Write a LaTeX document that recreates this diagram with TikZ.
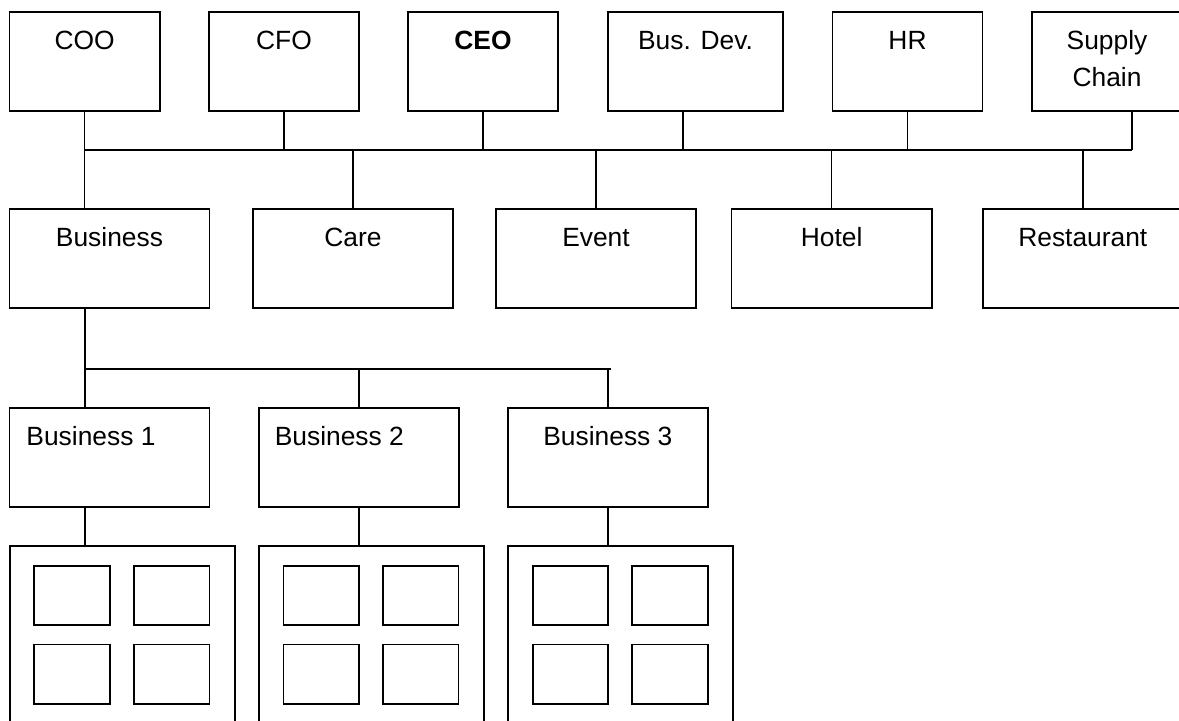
\documentclass[tikz,border=0pt]{standalone}
\usepackage{fontspec}
\setmainfont{Liberation Sans}
\usetikzlibrary{calc}
\tikzset{
	unit/.style={draw, inner sep=0pt, minimum height=0.99cm},
	ttl/.style={anchor=base, yshift=-0.385cm, inner sep=0pt, align=center},
	cell/.style={draw, inner sep=0pt, minimum width=0.756cm, minimum height=0.596cm}
}

\begin{document}
\begin{tikzpicture}[x=0.01cm, y=-0.01cm, line width=0.5pt, font=\fontsize{7.5}{10.4}\selectfont]
		%%%%% START %%%%%
		\useasboundingbox (0,0) rectangle (1179,720);
		\clip (0,0) rectangle (1179,720);
		
		% executives
		\node[unit, minimum width=1.5cm, label={[ttl]north:COO}] (coo) at (84.6,61.2) {};
		\node[unit, minimum width=1.5cm, label={[ttl]north:CFO}] (cfo) at (284,61.2) {};
		\node[unit, minimum width=1.5cm, label={[ttl]north:{\bfseries CEO}}] (ceo) at (483,61.2) {};
		\node[unit, minimum width=1.75cm, label={[ttl]north:Bus. Dev.}] (busdev) at (695.5,61.2) {};
		\node[unit, minimum width=1.5cm, label={[ttl]north:HR}] (hr) at (907.5,61.2) {};
		\node[unit, minimum width=1.5cm, label={[ttl, yshift=-0.367cm]north:Supply\\Chain}] (supply) at (1107,61.2) {};
		
		% divisions
		\node[unit, minimum width=2cm, label={[ttl]north:Business}] (business) at (109.5,258.8) {};
		\node[unit, minimum width=2cm, label={[ttl]north:Care}] (care) at (353,258.8) {};
		\node[unit, minimum width=2cm, label={[ttl]north:Event}] (event) at (596,258.8) {};
		\node[unit, minimum width=2cm, label={[ttl]north:Hotel}] (hotel) at (831.6,258.8) {};
		\node[unit, minimum width=2cm, label={[ttl]north:Restaurant}] (restaurant) at (1082.8,258.8) {};
		
		% business units
		\node[unit, minimum width=2cm, label={[ttl, anchor=base west, xshift=0.17cm]north west:Business 1}] (bone) at (109.5,457.2) {};
		\node[unit, minimum width=2cm, label={[ttl, anchor=base west, xshift=0.162cm]north west:Business 2}] (btwo) at (358.7,457.2) {};
		\node[unit, minimum width=2cm, label={[ttl]north:Business 3}] (bthree) at (607.9,457.2) {};
		
		% sites
		\node[unit, minimum width=2.25cm, minimum height=2.4cm] (cone) at (122.2,666) {};
		\node[unit, minimum width=2.25cm, minimum height=2.4cm] (ctwo) at (371.3,666) {};
		\node[unit, minimum width=2.25cm, minimum height=2.4cm] (cthree) at (620.5,666) {};
		\foreach \c/\x in {cone/9.7, ctwo/258.8, cthree/508}
			\foreach \dx [count=\i] in {62.5,161.9}
				\foreach \y [count=\j] in {595.5,674.3}
					\node[cell] (\c-\i-\j) at (\x+\dx,\y) {};
		
		% top bus
		\coordinate (top west) at (84.6,150.3);
		\coordinate (top east) at (1132.3,150.3);
		\coordinate (dev drop) at (682.8,150.3);
		\draw (top west) -- (top east);
		\draw (coo.south) -- (coo.south |- business.north);
		\foreach \n in {cfo,ceo,hr}
			\draw (\n.south) -- (\n.south |- top west);
		\draw (busdev.south -| dev drop) -- (dev drop);
		\draw (supply.south -| top east) -- (top east);
		\foreach \n in {care,event,hotel,restaurant}
			\draw (\n.north |- top west) -- (\n.north);
		
		% business bus
		\coordinate (mid west) at (84.8,369);
		\coordinate (mid east) at (610.8,369);
		\draw (mid west) -- (mid east);
		\draw (business.south -| mid west) -- (bone.north -| mid west);
		\draw (btwo.north |- mid west) -- (btwo.north);
		\draw (bthree.north |- mid west) -- (bthree.north);
		
		% units to sites
		\draw (bone.south -| mid west) -- (cone.north -| mid west);
		\draw (btwo.south) -- (btwo.south |- ctwo.north);
		\draw (bthree.south) -- (bthree.south |- cthree.north);
		%%%%% END %%%%%
\end{tikzpicture}
\end{document}
